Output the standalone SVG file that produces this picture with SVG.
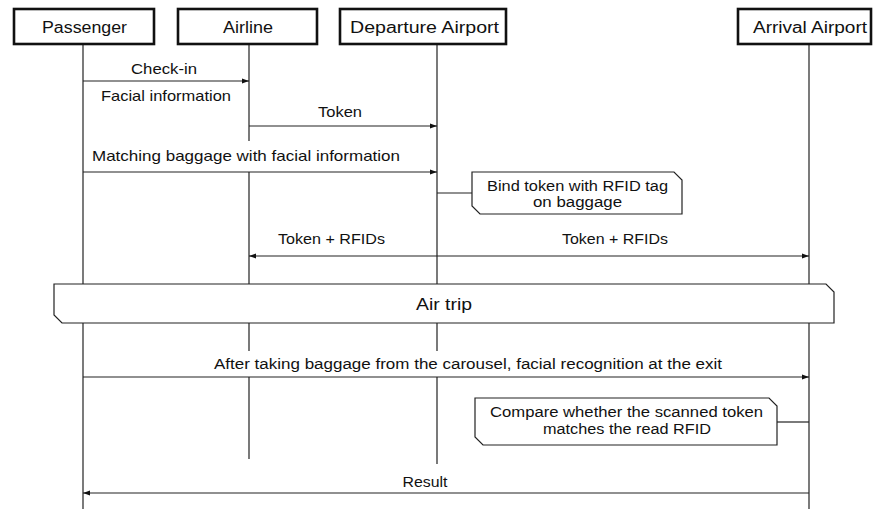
<svg xmlns="http://www.w3.org/2000/svg" width="873" height="509" viewBox="0 0 873 509">
  <style>
    .head { fill: #fff; stroke: #111; stroke-width: 2.6; }
    .life { stroke: #222; stroke-width: 1.2; fill: none; }
    .msg { stroke: #222; stroke-width: 1.2; fill: none; }
    .note { fill: #fff; stroke: #222; stroke-width: 1.2; }
    text { font-family: "Liberation Sans", "Noto Sans", sans-serif; fill: #111; }
    .ht { font-size: 16px; }
    .lt { font-size: 14.5px; }
    .nt { font-size: 14px; }
  </style>
  <defs>
    <marker id="arrow" markerUnits="userSpaceOnUse" markerWidth="8" markerHeight="6" refX="7" refY="3" orient="auto-start-reverse">
      <path d="M0,0.6 L7,3 L0,5.4 Z" fill="#111"/>
    </marker>
  </defs>

  <!-- lifelines -->
  <g id="lifelines">
    <line class="life" x1="83" y1="45" x2="83" y2="509"/>
    <path class="life" d="M249,45 V141 M249,172 V284 M249,323 V351 M249,377 V459"/>
    <path class="life" d="M437,45 V284 M437,323 V351 M437,377 V464"/>
    <line class="life" x1="809" y1="45" x2="809" y2="509"/>
  </g>

  <!-- participants -->
  <g id="passenger">
    <rect class="head" x="14" y="9" width="140" height="35"/>
    <text class="ht" x="84.5" y="33" text-anchor="middle" textLength="85" lengthAdjust="spacingAndGlyphs">Passenger</text>
  </g>
  <g id="airline">
    <rect class="head" x="178" y="9" width="139" height="35"/>
    <text class="ht" x="248" y="33" text-anchor="middle" textLength="50" lengthAdjust="spacingAndGlyphs">Airline</text>
  </g>
  <g id="departure-airport">
    <rect class="head" x="340" y="9" width="166" height="35"/>
    <text class="ht" x="424.5" y="33" text-anchor="middle" textLength="149" lengthAdjust="spacingAndGlyphs">Departure Airport</text>
  </g>
  <g id="arrival-airport">
    <rect class="head" x="738" y="9" width="133" height="35"/>
    <text class="ht" x="810" y="33" text-anchor="middle" textLength="114" lengthAdjust="spacingAndGlyphs">Arrival Airport</text>
  </g>

  <!-- messages -->
  <g id="connectors">
    <line class="msg" x1="83" y1="81" x2="249" y2="81" marker-end="url(#arrow)"/>
    <line class="msg" x1="249" y1="126" x2="437" y2="126" marker-end="url(#arrow)"/>
    <line class="msg" x1="83" y1="172" x2="437" y2="172" marker-end="url(#arrow)"/>
    <line class="msg" x1="437" y1="193" x2="472" y2="193"/>
    <line class="msg" x1="249" y1="256" x2="809" y2="256" marker-start="url(#arrow)" marker-end="url(#arrow)"/>
    <line class="msg" x1="83" y1="377" x2="809" y2="377" marker-end="url(#arrow)"/>
    <line class="msg" x1="777" y1="422" x2="809" y2="422"/>
    <line class="msg" x1="809" y1="493" x2="83" y2="493" marker-end="url(#arrow)"/>
  </g>

  <!-- message labels -->
  <g id="labels">
    <text class="lt" x="164" y="74" text-anchor="middle" textLength="66" lengthAdjust="spacingAndGlyphs">Check-in</text>
    <text class="lt" x="166" y="101" text-anchor="middle" textLength="130" lengthAdjust="spacingAndGlyphs">Facial information</text>
    <text class="lt" x="340" y="117" text-anchor="middle" textLength="44" lengthAdjust="spacingAndGlyphs">Token</text>
    <text class="lt" x="246" y="161" text-anchor="middle" textLength="308" lengthAdjust="spacingAndGlyphs">Matching baggage with facial information</text>
    <text class="lt" x="331.5" y="244" text-anchor="middle" textLength="107" lengthAdjust="spacingAndGlyphs">Token + RFIDs</text>
    <text class="lt" x="615" y="244" text-anchor="middle" textLength="106" lengthAdjust="spacingAndGlyphs">Token + RFIDs</text>
    <text class="nt" x="468" y="369" text-anchor="middle" textLength="508" lengthAdjust="spacingAndGlyphs">After taking baggage from the carousel, facial recognition at the exit</text>
    <text class="nt" x="425" y="487" text-anchor="middle" textLength="45" lengthAdjust="spacingAndGlyphs">Result</text>
  </g>

  <!-- notes -->
  <g id="note-bind">
    <path class="note" d="M472,172 H674 L682,180 V214 H480 L472,206 Z"/>
    <text class="nt" x="577.5" y="191" text-anchor="middle" textLength="181" lengthAdjust="spacingAndGlyphs">Bind token with RFID tag</text>
    <text class="nt" x="577.5" y="207" text-anchor="middle" textLength="89" lengthAdjust="spacingAndGlyphs">on baggage</text>
  </g>
  <g id="note-compare">
    <path class="note" d="M475,398 H769 L777,406 V445 H483 L475,437 Z"/>
    <text class="nt" x="626.5" y="417" text-anchor="middle" textLength="273" lengthAdjust="spacingAndGlyphs">Compare whether the scanned token</text>
    <text class="nt" x="627" y="434" text-anchor="middle" textLength="168" lengthAdjust="spacingAndGlyphs">matches the read RFID</text>
  </g>

  <!-- air trip band -->
  <g id="air-trip">
    <path class="note" d="M54,284 H826 L834,292 V323 H62 L54,315 Z"/>
    <text class="ht" x="444" y="310" text-anchor="middle" textLength="56" lengthAdjust="spacingAndGlyphs">Air trip</text>
  </g>
</svg>
